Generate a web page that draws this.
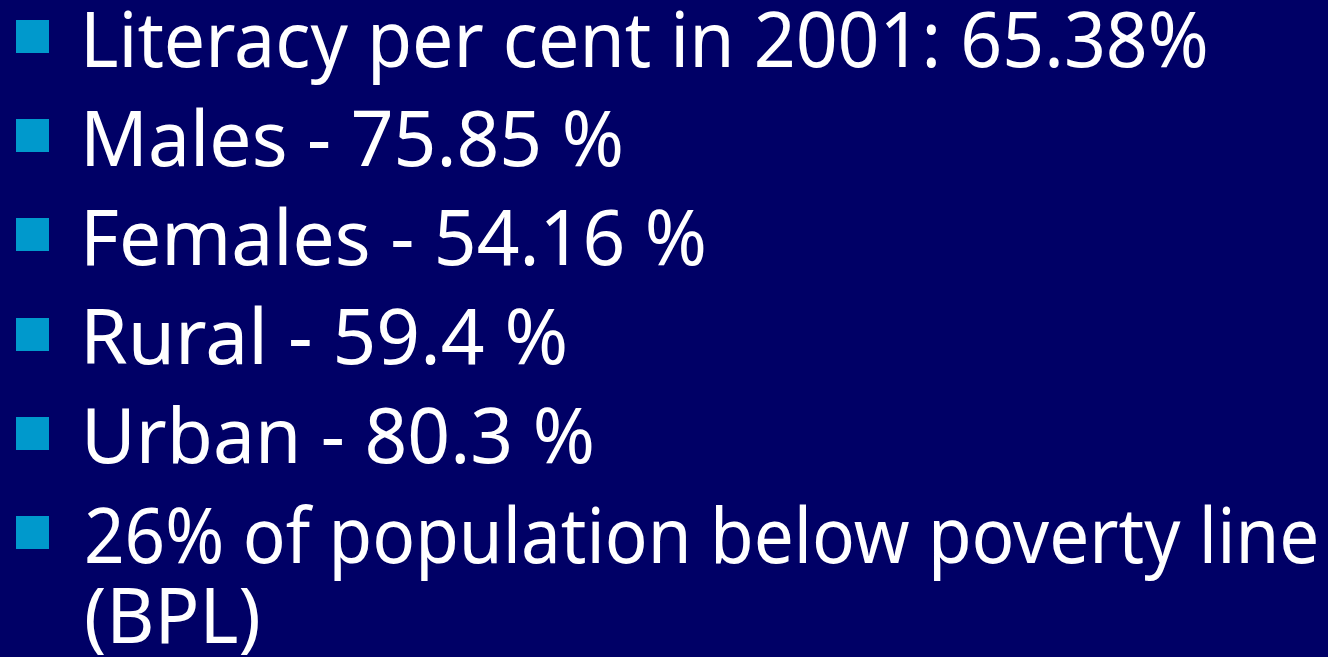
<!DOCTYPE html>
<html>
<head>
<meta charset="utf-8">
<script src="https://cdn.jsdelivr.net/npm/chart.js@4/dist/chart.umd.min.js"></script>
<style>
  html, body {
    margin: 0;
    padding: 0;
    width: 1328px;
    height: 657px;
    overflow: hidden;
    background: #000066;
  }
  #slide {
    position: relative;
    width: 1328px;
    height: 657px;
    font-family: "Noto Sans", "DejaVu Sans", sans-serif;
    color: #ffffff;
  }
  .item {
    position: absolute;
    font-size: 76px;
    line-height: 70px;
    white-space: nowrap;
    transform-origin: 0 0;
  }
  .bullet {
    position: absolute;
    left: 16px;
    width: 33px;
    height: 33px;
    background: #0099cc;
  }
</style>
</head>
<body>
<div id="slide"></div>
<script>
// slide content
const labels = ["Literacy per cent in 2001", "Males", "Females", "Rural", "Urban"];
const values = [65.38, 75.85, 54.16, 59.4, 80.3];
const separators = [": ", " - ", " - ", " - ", " - "];
const suffixes = ["%", " %", " %", " %", " %"];
const povertyValue = 26;
const povertyLines = ["% of population below poverty line", "(BPL)"];

// right edge of each text line in the reference picture
const rightEdges = [1206, 621, 704, 565, 592, 1316, 258];

const rows = labels.map((l, i) => ({
  text: l + separators[i] + values[i] + suffixes[i],
  bullet: true,
}));
rows.push({ text: povertyValue + povertyLines[0], bullet: true });
rows.push({ text: povertyLines[1], bullet: false });

const ctx = document.createElement("canvas").getContext("2d");
ctx.font = "76px 'Noto Sans'";

const slide = document.getElementById("slide");
const step = 99.2;
let baseline = 67;
rows.forEach((row, i) => {
  if (i > 0) baseline += row.bullet ? step : 80;

  if (row.bullet) {
    const b = document.createElement("div");
    b.className = "bullet";
    b.style.top = (baseline - 47) + "px";
    slide.appendChild(b);
  }

  const m = ctx.measureText(row.text);
  const asc = m.fontBoundingBoxAscent || 81.2;
  const desc = m.fontBoundingBoxDescent || 22.3;
  const baseOff = (70 - (asc + desc)) / 2 + asc;
  const inkLeft = 87;
  const inkW = m.actualBoundingBoxLeft + m.actualBoundingBoxRight;
  const scale = (rightEdges[i] - inkLeft) / inkW;

  const d = document.createElement("div");
  d.className = "item";
  d.textContent = row.text;
  d.style.top = (baseline - baseOff) + "px";
  d.style.left = (inkLeft + m.actualBoundingBoxLeft * scale) + "px";
  d.style.transform = "scaleX(" + scale + ")";
  slide.appendChild(d);
});
</script>
</body>
</html>
